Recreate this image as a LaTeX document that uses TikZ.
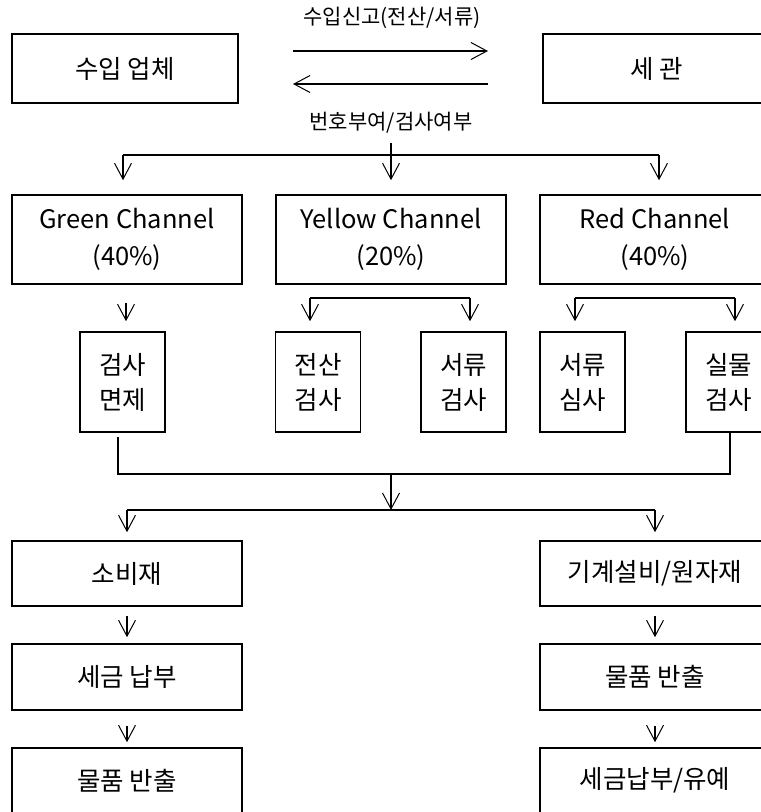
\documentclass[tikz,border=0pt]{standalone}
\usepackage{fontspec}
\setmainfont{Noto Sans CJK KR}
\usetikzlibrary{arrows.meta,calc}
\tikzset{
  box/.style={draw, line width=1.6pt, inner sep=0pt, align=center, font=\fontsize{25.5}{37}\selectfont},
  wbox/.style={box, minimum width=230pt},
  sbox/.style={box, minimum width=85pt, minimum height=100pt, font=\fontsize{25.5}{35}\selectfont},
  lbl/.style={inner sep=0pt, font=\fontsize{21}{24}\selectfont},
  conn/.style={line width=1.1pt},
  arr/.style={conn, -{Straight Barb[length=16pt,width=17pt,line width=1pt]}},
}
\begin{document}
\begin{tikzpicture}[x=1pt,y=-1pt]
\useasboundingbox (0,0) rectangle (761,812);
% top
\node[box, minimum width=226pt, minimum height=69pt] (imp) at (125,68.5) {수입 업체};
\node[box, minimum width=227pt, minimum height=69pt] (cus) at (656.5,68.5) {세 관};
\node[lbl] (l1) at (392,18) {수입신고(전산/서류)};
\node[lbl] (l2) at (391,123) {번호부여/검사여부};
\coordinate (r0) at (293,51); \coordinate (r1) at (488,51);
\coordinate (b0) at (488,84); \coordinate (b1) at (293,84);
\draw[arr] (r0) -- (r1);
\draw[arr] (b0) -- (b1);
% channels
\node[wbox, minimum height=89pt] (green) at (127,239.5) {Green Channel\\(40\%)};
\node[wbox, minimum height=89pt] (yellow) at (391,239.5) {Yellow Channel\\(20\%)};
\node[wbox, minimum height=89pt] (red) at (655,239.5) {Red Channel\\(40\%)};
\coordinate (h1) at (0,155);
\coordinate (t2) at (391,143);
\draw[conn] ([xshift=-4pt]green.north |- h1) -- ([xshift=4pt]red.north |- h1);
\draw[arr, shorten >=14pt] ([xshift=-4pt]green.north |- h1) -- ([xshift=-4pt]green.north);
\draw[arr, shorten >=14pt] (t2) -- (yellow.north);
\draw[arr, shorten >=14pt] ([xshift=4pt]red.north |- h1) -- ([xshift=4pt]red.north);
% small boxes
\node[sbox] (A) at (122.5,382) {검사\\면제};
\node[sbox] (B) at (318,382) {전산\\검사};
\node[sbox] (C) at (463.5,382) {서류\\검사};
\node[sbox] (D) at (582.5,382) {서류\\심사};
\node[sbox] (E) at (728.5,382) {실물\\검사};
\draw[arr, shorten <=18pt, shorten >=10pt] ([xshift=-1pt]green.south) -- ([xshift=3.5pt]A.north);
\coordinate (h2) at (0,298);
\draw[conn] ([xshift=-8pt]B.north |- h2) -- ([xshift=6.5pt]C.north |- h2);
\draw[arr, shorten >=10pt] ([xshift=-8pt]B.north |- h2) -- ([xshift=-8pt]B.north);
\draw[arr, shorten >=10pt] ([xshift=6.5pt]C.north |- h2) -- ([xshift=6.5pt]C.north);
\draw[conn] ([xshift=-7.5pt]D.north |- h2) -- ([xshift=6.5pt]E.north |- h2);
\draw[arr, shorten >=10pt] ([xshift=-7.5pt]D.north |- h2) -- ([xshift=-7.5pt]D.north);
\draw[arr, shorten >=10pt] ([xshift=6.5pt]E.north |- h2) -- ([xshift=6.5pt]E.north);
% merge
\coordinate (h3) at (0,474);
\coordinate (m1) at (391,474);
\coordinate (m2) at (391,510);
\draw[conn, shorten <=4pt] ([xshift=-4.5pt]A.south) -- ([xshift=-4.5pt]A.south |- h3) -- ([xshift=1.5pt]E.south |- h3) -- ([xshift=1.5pt]E.south);
\draw[arr] (m1) -- (m2);
% bottom
\node[wbox, minimum height=65pt] (c1) at (127,573.5) {소비재};
\node[wbox, minimum height=66pt] (c2) at (127,677) {세금 납부};
\node[wbox, minimum height=65pt] (c3) at (127,780.5) {물품 반출};
\node[wbox, minimum height=65pt] (k1) at (655,573.5) {기계설비/원자재};
\node[wbox, minimum height=66pt] (k2) at (655,677) {물품 반출};
\node[wbox, minimum height=65pt] (k3) at (655,780.5) {세금납부/유예};
\draw[conn] (c1.north |- m2) -- (k1.north |- m2);
\draw[arr, shorten >=8pt] (c1.north |- m2) -- (c1.north);
\draw[arr, shorten >=8pt] (k1.north |- m2) -- (k1.north);
\draw[arr, shorten <=9pt, shorten >=6pt] (c1) -- (c2);
\draw[arr, shorten <=9pt, shorten >=6pt] (k1) -- (k2);
\draw[arr, shorten <=15pt, shorten >=5pt] (c2) -- (c3);
\draw[arr, shorten <=15pt, shorten >=5pt] (k2) -- (k3);
\end{tikzpicture}
\end{document}
